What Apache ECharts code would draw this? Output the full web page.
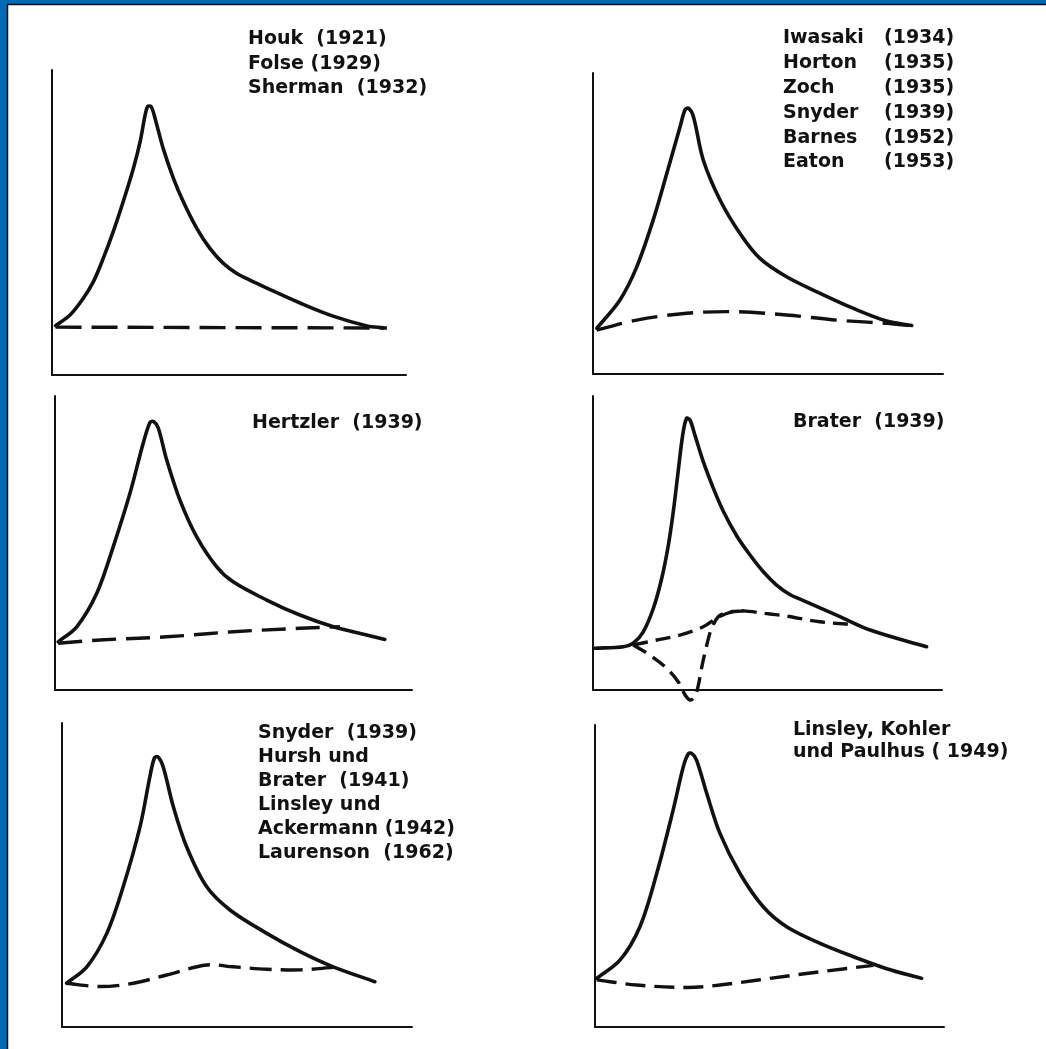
<!DOCTYPE html>
<html>
<head>
<meta charset="utf-8">
<script src="https://cdn.jsdelivr.net/npm/echarts@6/dist/echarts.min.js"></script>
<style>
html,body{margin:0;padding:0;background:#fff;}
#chart{width:1046px;height:1049px;}
</style>
</head>
<body>
<div id="chart"></div>
<script>
// ---- Panel texts ----
var p1Text = ["Houk  (1921)", "Folse (1929)", "Sherman  (1932)"];
var p2Names = ["Iwasaki", "Horton", "Zoch", "Snyder", "Barnes", "Eaton"];
var p2Years = ["(1934)", "(1935)", "(1935)", "(1939)", "(1952)", "(1953)"];
var p3Text = ["Hertzler  (1939)"];
var p4Text = ["Brater  (1939)"];
var p5Text = ["Snyder  (1939)", "Hursh und", "Brater  (1941)", "Linsley und", "Ackermann (1942)", "Laurenson  (1962)"];
var p6Text = ["Linsley, Kohler", "und Paulhus ( 1949)"];

// ---- Panel 1: Houk / Folse / Sherman ----
var p1Flow = [[1.0,16.2],[5.1,19.7],[8.8,25.1],[11.7,30.6],[14.5,38.3],[17.3,47.0],[20.1,56.8],[23.0,67.8],[24.9,76.5],[26.3,85.2],[27.0,88.0],[28.0,88.0],[29.1,84.2],[31.4,74.3],[34.3,64.5],[37.1,56.8],[40.9,48.1],[44.6,41.5],[48.4,36.6],[52.2,33.3],[55.9,31.1],[60.7,28.5],[70.1,23.6],[79.4,19.3],[89.0,16.1],[93.5,15.5]];
var p1Base = [[1.0,15.7],[94.6,15.4]];

// ---- Panel 2: Iwasaki ... Eaton ----
var p2Flow = [[1.1,15.2],[7.7,24.6],[12.5,35.6],[17.2,51.2],[21.1,66.7],[24.9,82.2],[26.3,87.8],[27.3,88.3],[28.7,85.5],[31.5,71.1],[36.3,57.8],[42.0,46.7],[47.7,38.4],[55.3,32.3],[64.9,26.8],[74.4,21.8],[83.9,17.6],[91.1,16.1]];
var p2Base = [[1.1,14.6],[12.5,17.9],[26.8,20.2],[41.1,20.7],[55.3,19.6],[69.6,17.9],[83.9,16.8],[91.5,15.9]];

// ---- Panel 3: Hertzler ----
var p3Flow = [[0.9,16.4],[6.1,21.5],[11.7,32.9],[16.3,48.7],[21.0,66.9],[24.7,83.9],[26.6,91.0],[27.6,91.3],[28.9,89.2],[31.3,78.2],[35.0,64.6],[39.7,52.1],[45.3,41.9],[49.9,36.8],[59.3,30.6],[68.6,25.5],[78.0,21.5],[87.3,18.7],[92.4,17.2]];
var p3Base = [[0.9,15.9],[12.6,17.0],[31.3,18.1],[49.9,19.8],[68.6,21.0],[79.8,21.5]];

// ---- Panel 4: Brater ----
var p4Flow = [[0.6,14.2],[8.7,14.7],[11.5,15.9],[14.4,19.8],[17.3,27.8],[19.7,38.0],[21.6,49.3],[23.0,60.6],[24.4,74.3],[25.7,86.7],[26.8,92.4],[27.8,91.8],[29.2,86.7],[31.6,77.7],[34.5,68.6],[37.3,60.9],[41.2,52.4],[45.0,45.9],[48.8,40.2],[52.6,35.7],[56.4,32.5],[60.3,30.4],[69.8,25.5],[79.4,20.4],[95.6,14.7]];
var p4BaseUpper = [[11.5,15.3],[18.3,17.0],[24.9,18.7],[31.6,21.5],[35.4,24.4],[39.3,26.4],[43.1,26.9],[48.8,26.1],[54.5,25.3],[65.0,23.2],[75.5,22.2]];
var p4BaseLower = [[11.5,15.3],[16.3,11.9],[21.1,7.4],[24.4,2.8],[26.4,-1.7],[27.8,-3.4],[29.2,-2.3],[30.2,1.7],[31.1,7.4],[32.6,15.3],[34.0,21.0],[35.9,24.9],[38.3,26.4],[43.1,26.9]];

// ---- Panel 5: Snyder / Hursh / Linsley / Laurenson ----
var p5Flow = [[1.3,14.4],[7.1,19.8],[12.8,30.8],[17.5,46.2],[22.3,65.9],[25.1,82.3],[26.4,88.5],[27.4,88.9],[28.9,85.6],[31.8,72.5],[35.6,59.3],[41.3,46.2],[48.0,38.5],[58.5,30.8],[68.0,24.8],[77.5,19.8],[89.4,14.9]];
var p5Base = [[1.3,14.4],[10.9,13.3],[20.4,14.4],[29.9,17.1],[41.3,20.4],[48.9,19.8],[58.5,19.0],[68.0,18.8],[77.5,19.6]];

// ---- Panel 6: Linsley, Kohler, Paulhus ----
var p6Flow = [[0.5,16.1],[7.2,22.2],[12.9,33.3],[17.7,50.9],[22.4,71.9],[25.3,86.2],[26.7,90.4],[27.7,90.6],[29.1,88.4],[32.0,77.4],[35.8,64.1],[41.5,50.9],[48.2,39.8],[54.9,33.2],[64.5,27.7],[74.0,23.3],[83.6,19.3],[93.6,16.1]];
var p6Base = [[0.5,15.6],[11.9,13.9],[26.3,13.1],[35.8,13.9],[50.1,16.1],[64.5,18.3],[79.8,20.4]];

// ---- Layout (pixels) ----
var grids = [
  {left:52,  top:70,  width:354, height:305},
  {left:593, top:73,  width:350, height:301},
  {left:55,  top:396, width:357, height:294},
  {left:593, top:396, width:349, height:294},
  {left:62,  top:723, width:350, height:304},
  {left:595, top:725, width:349, height:302}
];

var panels = [
  {flow:p1Flow, bases:[p1Base], dash:[26,10]},
  {flow:p2Flow, bases:[p2Base], dash:[26,10]},
  {flow:p3Flow, bases:[p3Base], dash:[24,10]},
  {flow:p4Flow, bases:[p4BaseUpper, p4BaseLower], dash:[15,8]},
  {flow:p5Flow, bases:[p5Base], dash:[22,9]},
  {flow:p6Flow, bases:[p6Base], dash:[20,9]}
];

// Smooth curve through points already mapped by the axes (chord-length cardinal spline)
function splinePath(pts){
  function dist(a,b){ return Math.sqrt((a[0]-b[0])*(a[0]-b[0]) + (a[1]-b[1])*(a[1]-b[1])); }
  function tangent(i){
    var p = pts[Math.max(i-1,0)], n = pts[Math.min(i+1,pts.length-1)];
    var L = dist(p, pts[i]) + dist(pts[i], n);
    return L ? [(n[0]-p[0])/L, (n[1]-p[1])/L] : [0,0];
  }
  var d = 'M' + pts[0][0].toFixed(2) + ' ' + pts[0][1].toFixed(2);
  for (var i = 0; i < pts.length-1; i++){
    var a = pts[i], b = pts[i+1], l = dist(a,b)/3;
    var ta = tangent(i), tb = tangent(i+1);
    d += ' C' + (a[0]+ta[0]*l).toFixed(2) + ' ' + (a[1]+ta[1]*l).toFixed(2) + ' ' +
         (b[0]-tb[0]*l).toFixed(2) + ' ' + (b[1]-tb[1]*l).toFixed(2) + ' ' +
         b[0].toFixed(2) + ' ' + b[1].toFixed(2);
  }
  return d;
}

function curveSeries(data, gridIdx, width, dash){
  return {
    type:'custom', coordinateSystem:'cartesian2d', xAxisIndex:gridIdx, yAxisIndex:gridIdx,
    data:data, silent:true, clip:false,
    renderItem:function(params, api){
      if (params.dataIndex !== 0) return null;
      var pts = data.map(function(p){ return api.coord(p); });
      return {type:'path', shape:{pathData:splinePath(pts)},
        style:{fill:'none', stroke:'#111', lineWidth:width, lineDash:dash || null, lineCap: dash ? 'butt' : 'round', lineJoin:'round'}};
    }
  };
}

var axisLine = {show:true, onZero:false, lineStyle:{color:'#111', width:2}};
var xAxes = [], yAxes = [], series = [];
grids.forEach(function(g, i){
  xAxes.push({type:'value', gridIndex:i, min:0, max:100, axisLine:axisLine, axisTick:{show:false}, axisLabel:{show:false}, splitLine:{show:false}});
  yAxes.push({type:'value', gridIndex:i, min:0, max:100, axisLine:axisLine, axisTick:{show:false}, axisLabel:{show:false}, splitLine:{show:false}});
  var p = panels[i];
  series.push(curveSeries(p.flow, i, 3.6, null));
  p.bases.forEach(function(b){ series.push(curveSeries(b, i, 3.4, p.dash)); });
});

var font = {fontFamily:'DejaVu Sans', fontSize:19, color:'#111', fontWeight:'bold'};
function txt(lines, left, top, lh){
  return {text:lines.join('\n'), left:left, top:top, padding:0, itemGap:0,
    textStyle:Object.assign({}, font, {lineHeight:lh})};
}
var titles = [
  txt(p1Text, 248, 27, 24.5),
  txt(p2Names, 783, 26, 24.8),
  txt(p2Years, 884, 26, 24.8),
  txt(p3Text, 252, 411, 24),
  txt(p4Text, 793, 410, 24),
  txt(p5Text, 258, 721, 24),
  txt(p6Text, 793, 719, 22)
];

var chart = echarts.init(document.getElementById('chart'), null, {renderer:'canvas'});
chart.setOption({
  backgroundColor:'#ffffff',
  animation:false,
  title:titles,
  grid:grids,
  xAxis:xAxes,
  yAxis:yAxes,
  series:series,
  graphic:[
    {type:'rect', left:0, top:0, shape:{width:1046, height:4}, style:{fill:'#0068b4'}, silent:true},
    {type:'rect', left:0, top:0, shape:{width:7, height:1049}, style:{fill:'#0068b4'}, silent:true},
    {type:'line', shape:{x1:7.5, y1:4.5, x2:7.5, y2:1049}, style:{stroke:'#111', lineWidth:1.5}, silent:true},
    {type:'line', shape:{x1:7, y1:4.5, x2:1046, y2:4.5}, style:{stroke:'#111', lineWidth:1.5}, silent:true}
  ]
});
</script>
</body>
</html>
